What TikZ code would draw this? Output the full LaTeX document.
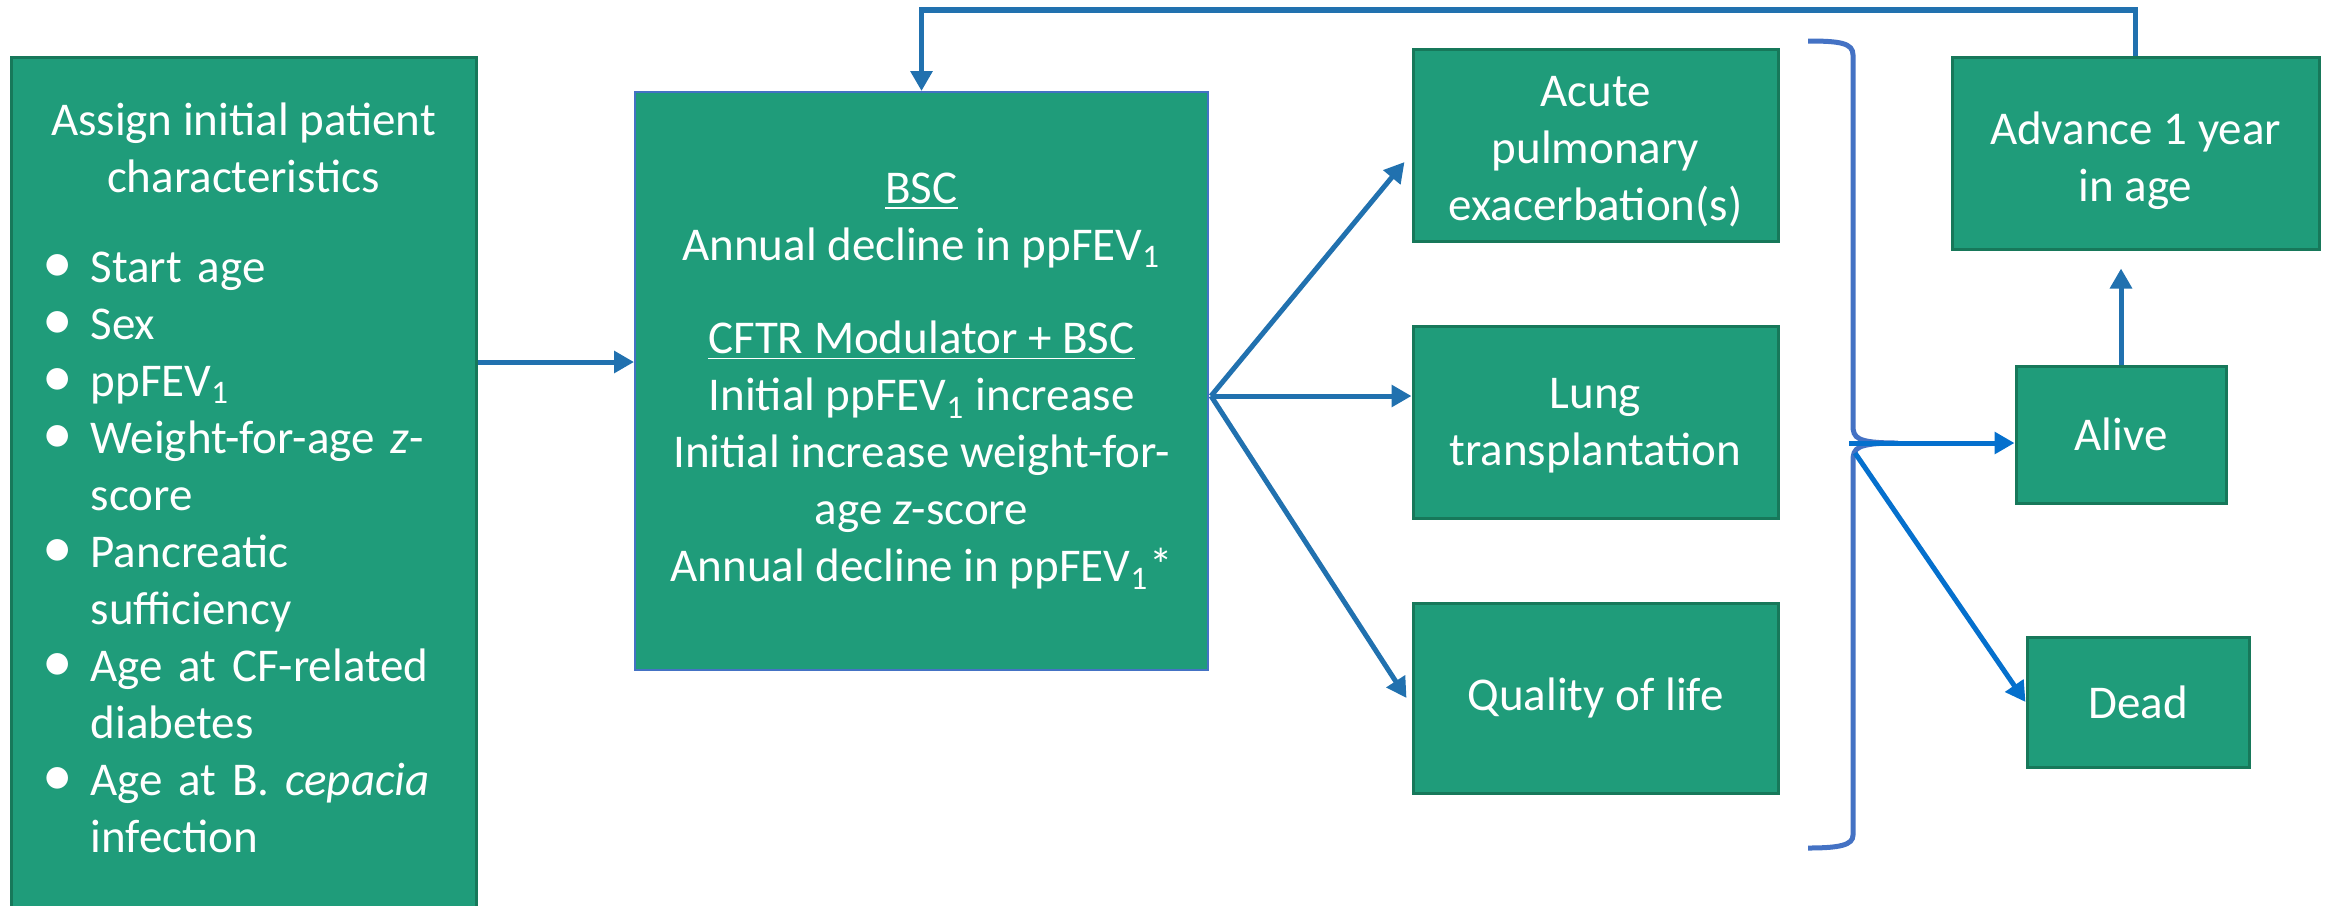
\documentclass[tikz,border=0pt]{standalone}
\usepackage{fontspec}
\usepackage{graphicx}
\setmainfont{Carlito}
\usetikzlibrary{arrows.meta,calc}
\definecolor{boxfill}{RGB}{31,156,122}
\definecolor{boxdraw}{RGB}{23,120,90}
\definecolor{midborder}{HTML}{4472C4}
\definecolor{arrowblue}{RGB}{33,113,175}
\definecolor{brightblue}{RGB}{5,112,205}
\definecolor{bracketblue}{HTML}{4472C4}
\newcommand\bitem[1]{\noindent\hangindent=18pt\hangafter=1\makebox[18pt][l]{\hspace{3.5pt}\scalebox{1.3}{\textbullet}}#1\par}
\begin{document}
\begin{tikzpicture}[x=0.3pt,y=-0.3pt,
  txtfont/.style={font=\fontsize{14.1}{17.1}\selectfont},
  gbox/.style={draw=boxdraw, line width=0.9pt, fill=boxfill, text=white, inner sep=0pt, align=center, txtfont},
  wtxt/.style={text=white, inner sep=0pt, txtfont},
  arr/.style={draw=arrowblue, line width=1.5pt, -{Triangle[length=6pt,width=6.4pt]}},
  brarr/.style={arr, draw=brightblue},
  bracket/.style={draw=bracketblue, line width=1.5pt}]
\useasboundingbox (0,0) rectangle (2333,905);
\clip (0,0) rectangle (2333,905);

% boxes
\node[gbox, minimum width=139.5pt, minimum height=270.9pt] (init) at (243.5,508.5) {};
\node[wtxt, anchor=base, align=center] (inittitle) at (243.5,192) {Assign initial patient\\characteristics};
\node[wtxt, anchor=base west, text width=140pt, align=left] (initlist) at (30,282) {%
\bitem{Start age}%
\bitem{Sex}%
\bitem{ppFEV\textsubscript{1}}%
\bitem{Weight-for-age \textit{z}-\newline score}%
\bitem{Pancreatic\newline sufficiency}%
\bitem{Age at CF-related\newline diabetes}%
\bitem{Age at B. \textit{cepacia}\newline infection}};

\node[gbox, draw=midborder, line width=0.6pt, minimum width=171.9pt, minimum height=173.4pt] (mid) at (921.5,381)
 {\underline{BSC}\\Annual decline in ppFEV\textsubscript{1}\\[11pt]\underline{CFTR Modulator + BSC}\\Initial ppFEV\textsubscript{1} increase\\Initial increase weight-for-\\age \textit{z}-score\\Annual decline in ppFEV\textsubscript{1}*};

\node[gbox, minimum width=109.5pt, minimum height=57.6pt] (acute) at (1595.5,145) {\rule{0pt}{13pt}Acute\\pulmonary\\exacerbation(s)};
\node[gbox, minimum width=109.5pt, minimum height=57.6pt] (lung) at (1595.5,422) {\rule{0pt}{11pt}Lung\\transplantation};
\node[gbox, minimum width=109.5pt, minimum height=57pt] (qol) at (1595.5,698) {Quality of life};
\node[gbox, minimum width=110.1pt, minimum height=57.6pt] (adv) at (2135.5,153) {\rule{0pt}{14.5pt}Advance 1 year\\in age};
\node[gbox, minimum width=63pt, minimum height=41.1pt] (alive) at (2121,434.5) {Alive};
\node[gbox, minimum width=66.6pt, minimum height=39pt] (dead) at (2138,702) {Dead};

% bracket
\draw[bracket] (1808,41) .. controls (1840,41) and (1853,43) .. (1853,55) -- (1853,425)
  .. controls (1853,438) and (1856,443) .. (1898,443)
  .. controls (1856,443) and (1853,448) .. (1853,461) -- (1853,835)
  .. controls (1853,845) and (1840,848) .. (1808,848);
\coordinate (tip) at (1849,443);
\coordinate (dstart) at (1855,453);

% connectors
\coordinate (la) at (0,362);
\draw[arr] (init.east |- la) -- (mid.west |- la);

\coordinate (fan) at ($(mid.east)+(2,15)$);
\draw[arr] (fan) -- ($(acute.west)+(-7,17)$);
\draw[arr] (fan) -- (fan -| lung.west);
\draw[arr] (fan) -- ($(qol.west)+(-5,0)$);

\draw[brarr] (tip) -- (tip -| alive.west);
\draw[brarr] (dstart) -- (dead.west);

\draw[arr, shorten >=5.4pt] (alive.north) -- (alive.north |- adv.south);

\coordinate (fb) at (0,10);
\draw[arr, line width=1.6pt] (adv.north) -- (adv.north |- fb) -- (mid.north |- fb) -- (mid.north);
\end{tikzpicture}
\end{document}
